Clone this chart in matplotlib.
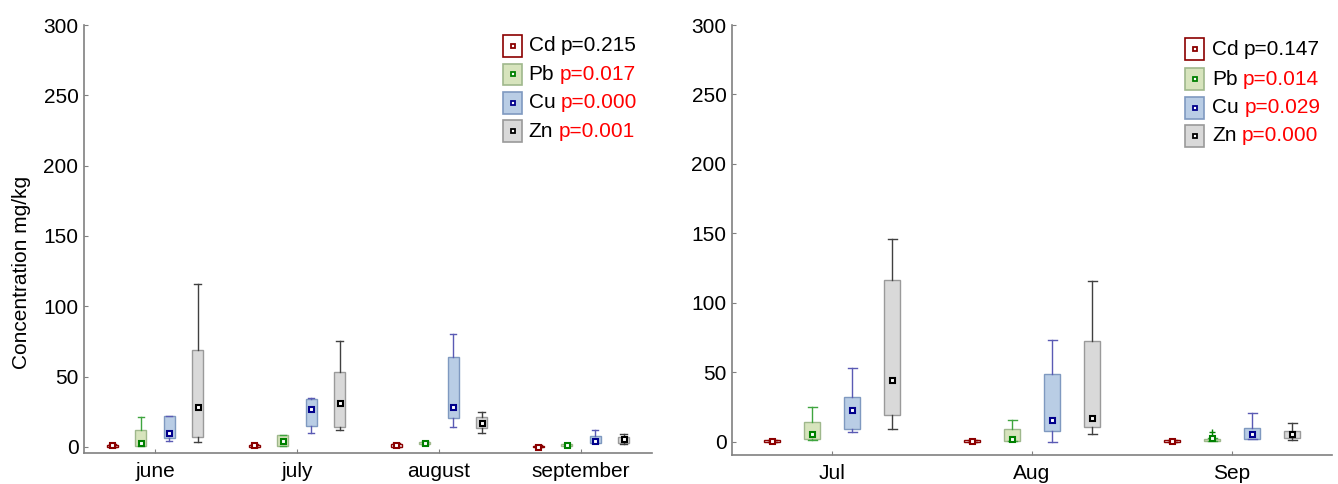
import matplotlib
matplotlib.use("Agg")
import matplotlib.pyplot as plt
from matplotlib.patches import Rectangle
import numpy as np

plt.rcParams['font.family'] = ['Liberation Sans', 'DejaVu Sans']

# stats per box: [whisker low, q1, median, q3, whisker high]
months_left = ['june', 'july', 'august', 'september']
cd_left = [[0.0, 0.1, 1.2, 1.6, 2.2], [0.0, 0.1, 1.2, 1.6, 2.2], [0.0, 0.2, 1.4, 2.0, 2.5], [0.0, 0.1, 0.3, 0.8, 1.2]]
pb_left = [[0.5, 0.7, 2.9, 12.4, 21.0], [0.5, 1.0, 4.3, 8.6, 8.8], [1.5, 1.9, 2.6, 3.8, 4.0], [0.8, 1.0, 1.7, 2.2, 2.4]]
cu_left = [[4.0, 6.4, 10.0, 22.1, 22.3], [10.2, 14.8, 26.9, 34.3, 34.5], [14.0, 20.7, 28.6, 63.8, 80.2], [2.5, 2.9, 4.3, 7.9, 11.7]]
zn_left = [[3.8, 7.1, 28.6, 68.8, 115.6], [11.9, 14.3, 31.2, 53.6, 75.0], [10.2, 13.8, 17.1, 21.4, 24.5], [1.9, 2.9, 6.0, 7.1, 9.5]]
p_left = ['p=0.215', 'p=0.017', 'p=0.000', 'p=0.001']

months_right = ['Jul', 'Aug', 'Sep']
cd_right = [[0.0, 0.1, 0.7, 0.9, 1.5], [0.0, 0.1, 0.6, 0.9, 1.4], [0.0, 0.1, 0.6, 0.9, 1.4]]
pb_right = [[1.2, 1.7, 5.5, 13.9, 24.8], [0.5, 0.7, 2.2, 8.9, 15.4], [0.5, 0.7, 2.4, 1.9, 3.0]]
cu_right = [[6.7, 9.4, 22.6, 32.0, 52.9], [0.0, 7.5, 15.4, 48.6, 73.3], [1.7, 1.7, 5.3, 9.6, 20.4]]
zn_right = [[8.9, 19.0, 44.2, 116.1, 145.9], [5.3, 10.3, 16.8, 72.8, 115.6], [1.2, 2.4, 5.3, 7.9, 13.5]]
pb_right_out = [[], [], [7.2]]
p_right = ['p=0.147', 'p=0.014', 'p=0.029', 'p=0.000']

metals = ['Cd', 'Pb', 'Cu', 'Zn']
p_red = [False, True, True, True]

styles = [
    dict(face='white', edge='#8b0000', whisk='#8b0000', mark='#8b0000'),
    dict(face='#d7e4bd', edge='#9fb88c', whisk='#3fa53f', mark='#008000'),
    dict(face='#b9cde5', edge='#7f99c0', whisk='#5a5ab4', mark='#00008b'),
    dict(face='#d9d9d9', edge='#9a9a9a', whisk='#404040', mark='#000000'),
]
offsets = [-0.3, -0.1, 0.1, 0.3]
FS = 15


def draw_panel(ax, names, groups, outliers):
    base = np.arange(1, len(names) + 1)
    for k, data in enumerate(groups):
        st = styles[k]
        pos = base + offsets[k]
        flier = outliers[k] if outliers[k] is not None else [[] for _ in data]
        stats = [dict(whislo=s[0], q1=s[1], med=s[2], q3=s[3], whishi=s[4], fliers=f)
                 for s, f in zip(data, flier)]
        ax.bxp(stats, positions=pos, widths=0.08, capwidths=0.045, patch_artist=True,
               boxprops=dict(facecolor=st['face'], edgecolor=st['edge'], linewidth=1.0),
               whiskerprops=dict(color=st['whisk'], linewidth=1.0),
               capprops=dict(color=st['whisk'], linewidth=1.0),
               medianprops=dict(linewidth=0),
               flierprops=dict(marker='+', markeredgecolor=st['mark'], markersize=5))
        ax.plot(pos, [s[2] for s in data], 's', ms=3.6, mfc='white', mec=st['mark'],
                mew=1.5, zorder=5, linestyle='none')
    ax.set_xticks(base)
    ax.set_xticklabels(names)
    ax.set_xlim(0.5, len(names) + 0.5)
    ax.set_yticks(np.arange(0, 301, 50))
    for side in ['top', 'right']:
        ax.spines[side].set_visible(False)
    for side in ['left', 'bottom']:
        ax.spines[side].set_color('#808080')
        ax.spines[side].set_linewidth(1.2)
    ax.tick_params(direction='in', length=3, color='#808080', labelsize=FS, pad=4)
    ax.tick_params(axis='x', pad=6.5)


def draw_legend(ax, lx, tx, ys, w, h, ptexts):
    for i, m in enumerate(metals):
        st = styles[i]
        y = ys[i]
        ax.add_patch(Rectangle((lx, y - h / 2), w, h, transform=ax.transAxes,
                               facecolor=st['face'], edgecolor=st['edge'],
                               linewidth=1.2, clip_on=False))
        ax.plot([lx + w / 2], [y], 's', ms=3.3, mfc='white', mec=st['mark'], mew=1.3,
                transform=ax.transAxes, clip_on=False)
        t = ax.text(tx, y, m, transform=ax.transAxes, va='center', ha='left', fontsize=FS)
        ax.annotate(ptexts[i], xy=(1, 0.5), xycoords=t, xytext=(4, 0),
                    textcoords='offset points', va='center', ha='left', fontsize=FS,
                    color='red' if p_red[i] else 'black')


fig = plt.figure(figsize=(13.38, 4.84), dpi=100)
ax1 = fig.add_axes([84 / 1338, 1 - 453 / 484, 568 / 1338, 428 / 484])
ax2 = fig.add_axes([732 / 1338, 1 - 455 / 484, 600 / 1338, 430 / 484])

draw_panel(ax1, months_left, [cd_left, pb_left, cu_left, zn_left], [None, None, None, None])
ax1.set_ylim(-4.3, 300)
draw_panel(ax2, months_right, [cd_right, pb_right, cu_right, zn_right], [None, pb_right_out, None, None])
ax2.set_ylim(-9.6, 300)

draw_legend(ax1, 0.738, 0.783, [0.951, 0.885, 0.818, 0.752], 0.0335, 0.050, p_left)
draw_legend(ax2, 0.755, 0.800, [0.944, 0.874, 0.807, 0.742], 0.032, 0.051, p_right)

fig.text(22 / 1338, 1 - 272 / 484, 'Concentration mg/kg', rotation=90, ha='center', va='center', fontsize=FS)

fig.savefig('out.png', dpi=100)
